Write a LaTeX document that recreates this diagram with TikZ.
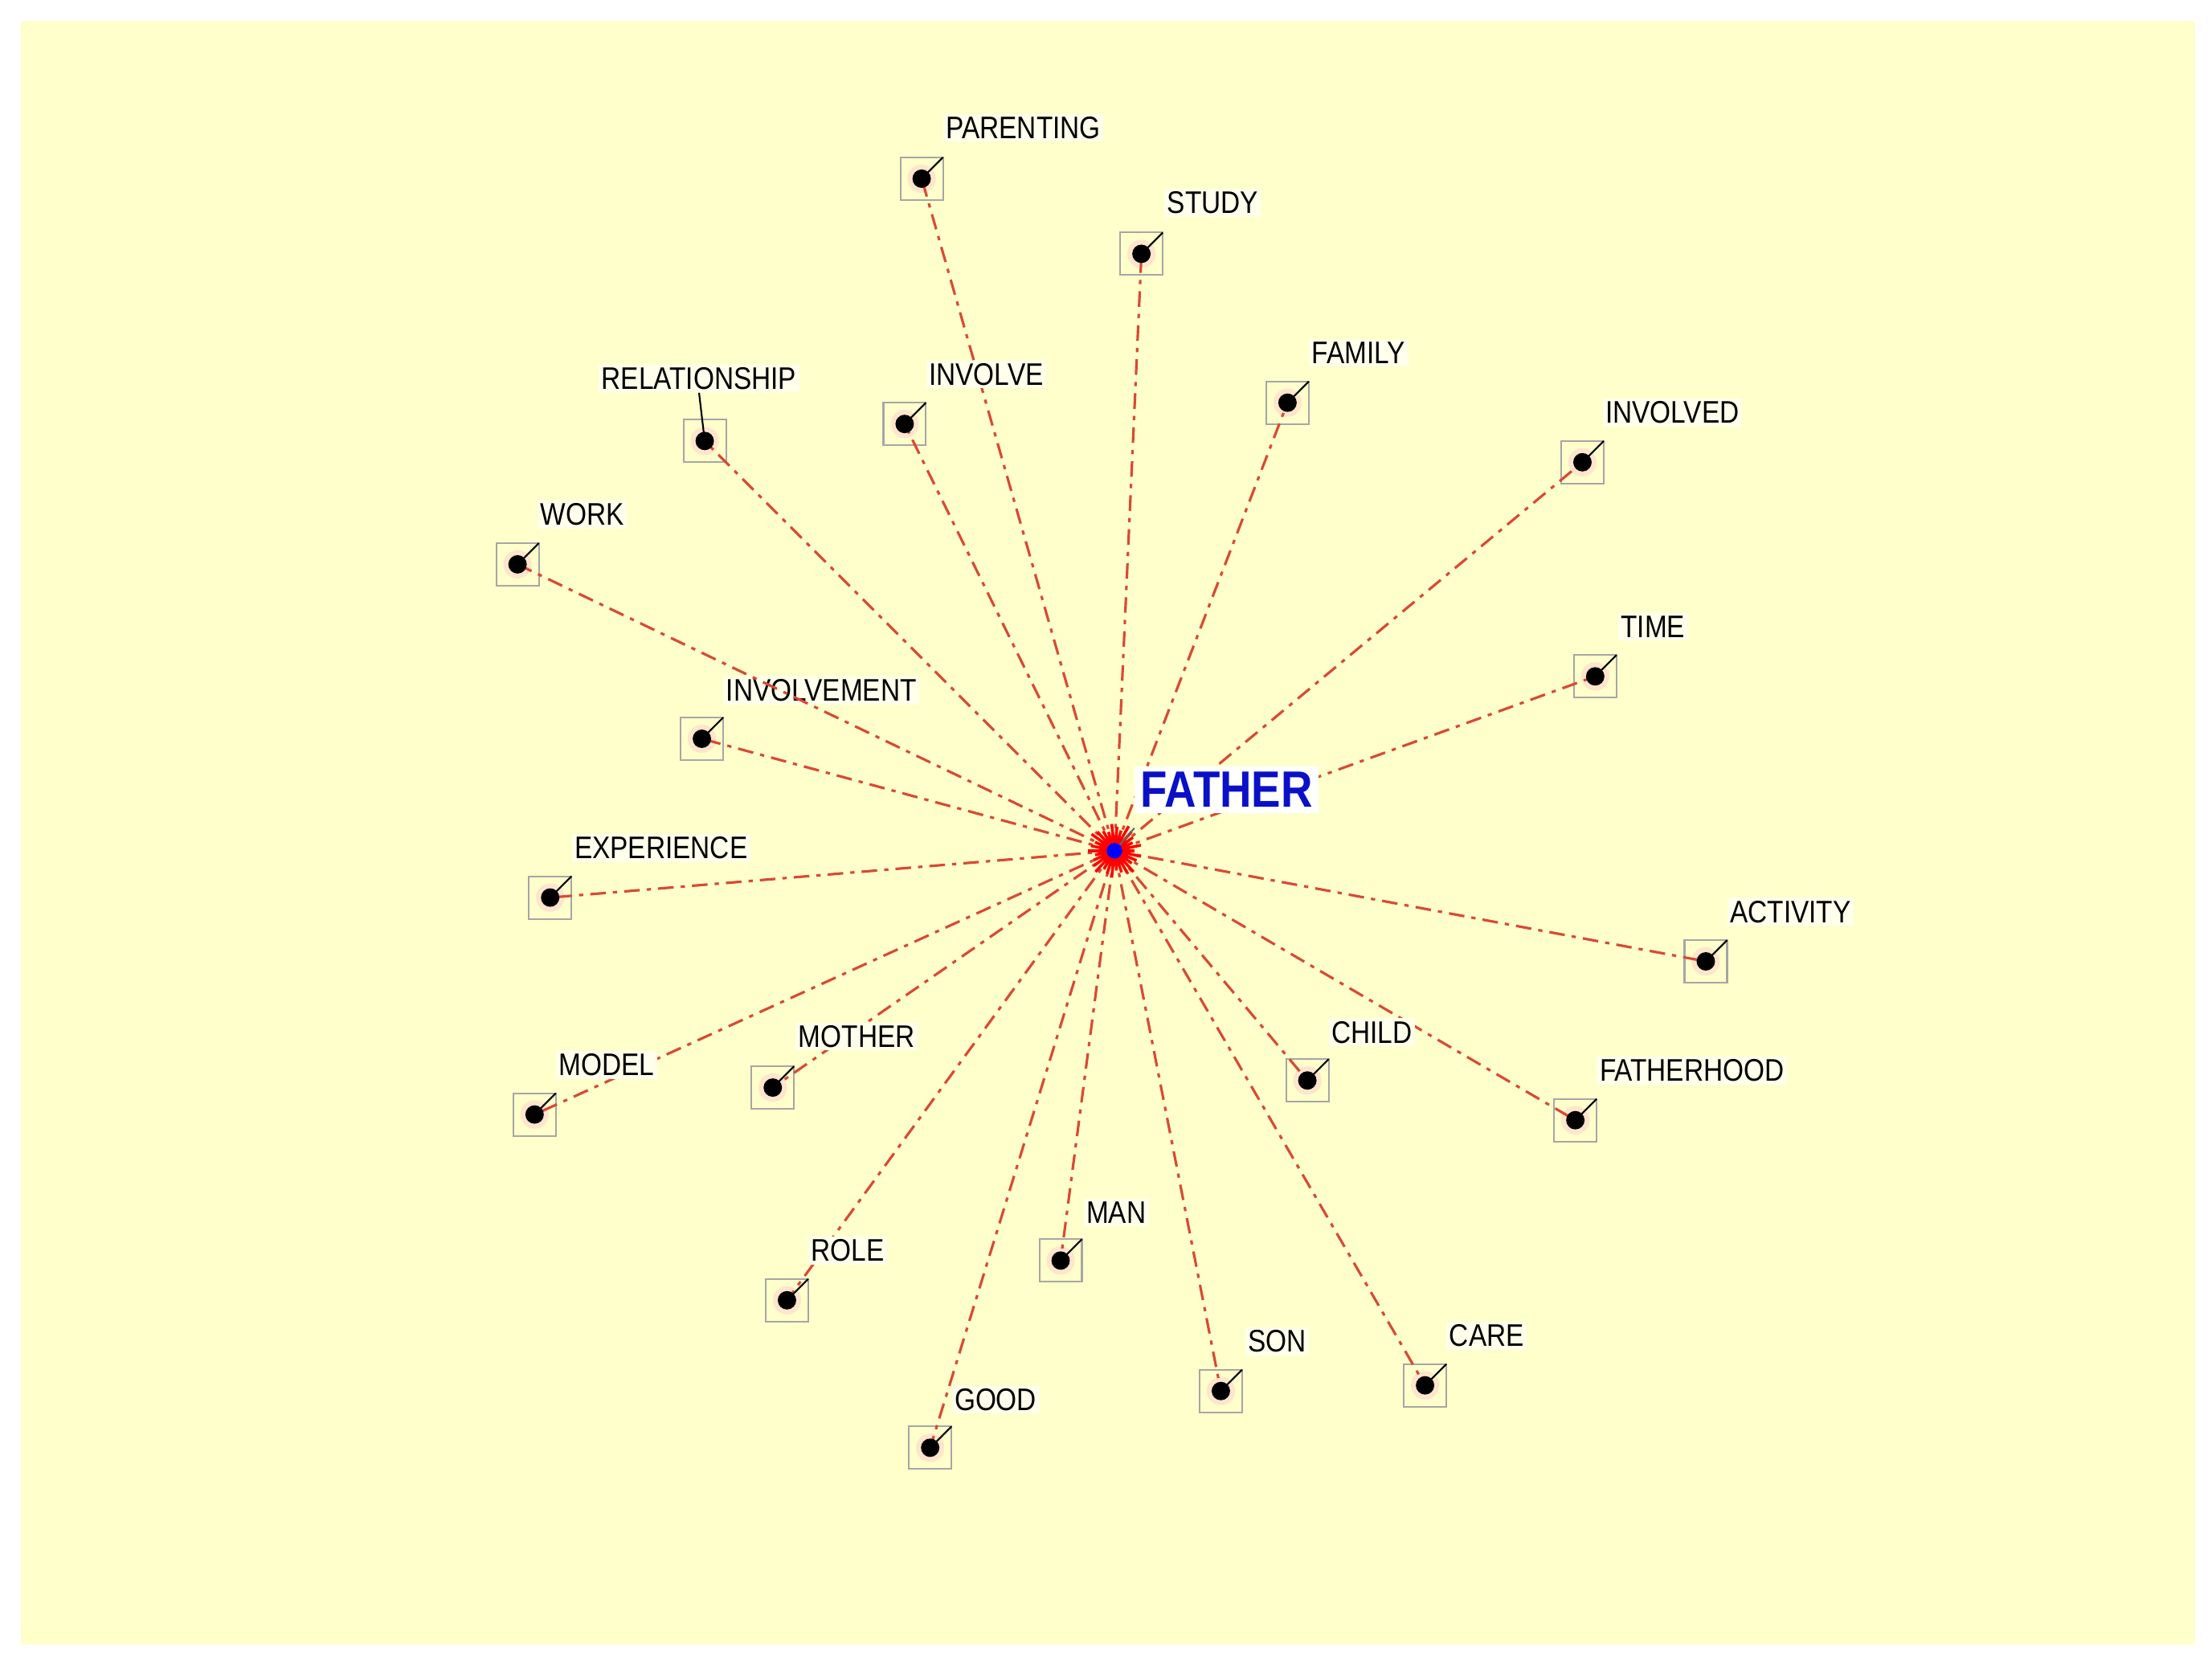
\documentclass[tikz,border=0pt]{standalone}
\usepackage{fontspec}
\setmainfont{Liberation Sans}[FakeStretch=0.86]
\definecolor{bg}{HTML}{FFFFCC}
\definecolor{edge}{HTML}{D84A34}
\definecolor{fblue}{HTML}{0A10C8}
\tikzset{
  conn/.style={edge,line width=1.8pt,dash pattern=on 11pt off 5pt on 3pt off 5pt},
  dotbox/.style={draw=gray!70,line width=1.2pt,fill=bg,minimum size=30pt,inner sep=0pt},
  lbl/.style={anchor=west,font=\fontsize{22}{24}\selectfont,fill=white!60!bg,inner sep=2pt,text=black}
}
\begin{document}
\begin{tikzpicture}[x=1pt,y=-1pt]
\useasboundingbox (0,0) rectangle (1560,1173);
\fill[white] (0,0) rectangle (1560,1173);
\fill[bg] (15,15) rectangle (1548,1160);
\coordinate (c) at (786,600);
\foreach \n/\x/\y/\lx/\ly in {
PARENTING/650/126/665/90, STUDY/805/179/821/143, FAMILY/908/284/923/249,
INVOLVED/1116/326/1130/291, TIME/1125/477/1141/442, ACTIVITY/1203/678/1218/643,
FATHERHOOD/1111/790/1126/755, CHILD/922/762/937/728, CARE/1005/977/1020/942,
SON/861/981/878/946, MAN/748/889/764/855, GOOD/656/1021/671/987,
ROLE/555/917/570/882, MOTHER/545/767/561/731, MODEL/377/786/392/751,
EXPERIENCE/388/633/403/598, INVOLVEMENT/495/521/510/487, WORK/365/398/379/363,
INVOLVE/638/299/653/264}{
  \node[dotbox] (b\n) at (\x,\y) {};
  \fill[orange!20] (\x,\y) circle (10);
  \draw[conn] (c) -- (\x,\y);
  \node[circle,fill=black,minimum size=13pt,inner sep=0pt] (d\n) at (\x,\y) {};
  \node[lbl] (l\n) at (\lx,\ly) {\n};
  \draw[black,line width=1.2pt] (d\n.center) -- ++(15,-15);
}
% relationship
\node[dotbox] (bREL) at (497,311) {};
\fill[orange!20] (497,311) circle (10);
\draw[conn] (c) -- (497,311);
\node[circle,fill=black,minimum size=13pt,inner sep=0pt] (dREL) at (497,311) {};
\node[lbl,anchor=center] (lREL) at (493,267) {RELATIONSHIP};
\draw[black,line width=1.2pt] (dREL.center) -- (lREL.south);
% center burst
\foreach \a in {0,12,...,359}{
  \draw[red,line width=2pt] (c) -- ++(\a:{14+mod(\a,7)});
}
\fill[red] (c) circle (10);
\node[font=\bfseries\fontsize{36}{38}\selectfont,text=fblue,fill=white,inner sep=4pt,anchor=west] (f) at (800,557) {FATHER};
\draw[black!60,line width=1.2pt] (c) -- ++(14,-16);
\node[circle,fill=blue,minimum size=11pt,inner sep=0pt] (cd) at (c) {};
\end{tikzpicture}
\end{document}
